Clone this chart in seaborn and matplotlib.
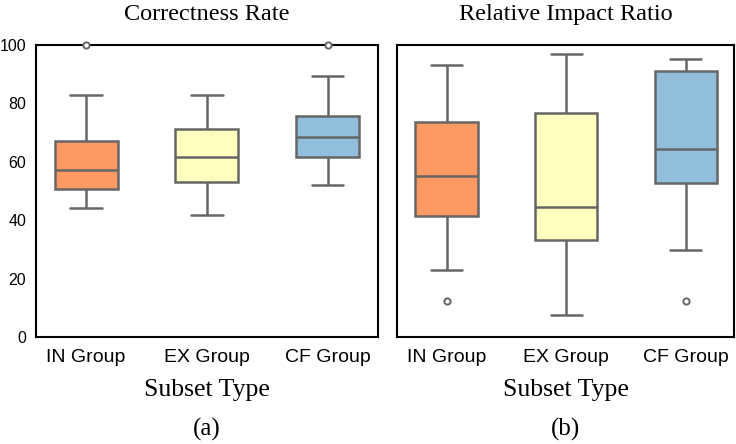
import matplotlib
matplotlib.use("Agg")
import matplotlib.pyplot as plt
import numpy as np
import pandas as pd
import seaborn as sns

# groups on the x axis
groups = ["IN Group", "EX Group", "CF Group"]
colors = ["#fd9a63", "#ffffbf", "#91bfdb"]

# (a) correctness rate
correct_in = [44.3, 47.5, 50.7, 54.0, 57.2, 62.0, 67.2, 82.7, 100.0]
correct_ex = [42.0, 48.0, 53.2, 58.0, 61.6, 66.0, 71.1, 77.0, 82.8]
correct_cf = [52.0, 57.0, 61.5, 65.0, 68.5, 72.0, 75.7, 89.4, 100.0]

# (b) relative impact ratio
impact_in = [12.6, 23.2, 41.4, 48.0, 55.1, 64.0, 73.8, 84.0, 93.0]
impact_ex = [7.7, 20.0, 33.3, 40.0, 44.5, 60.0, 76.7, 88.0, 96.8]
impact_cf = [12.6, 29.9, 52.9, 58.0, 64.5, 80.0, 90.9, 93.0, 95.2]

yticks = [0, 20, 40, 60, 80, 100]


def make_frame(a, b, c):
    return pd.DataFrame({
        "group": [groups[0]] * len(a) + [groups[1]] * len(b) + [groups[2]] * len(c),
        "value": a + b + c,
    })


def draw_panel(ax, df, title, letter, whis, xlim, show_labels):
    sns.boxplot(data=df, x="group", y="value", hue="group", order=groups,
                palette=colors, saturation=1, width=0.52, whis=whis,
                linecolor="#666666", linewidth=1.8, legend=False, ax=ax,
                flierprops=dict(marker="o", markersize=4.5, markerfacecolor="white",
                                markeredgecolor="#666666", markeredgewidth=1.4,
                                clip_on=False, zorder=5))
    ax.set_ylim(0, 100)
    ax.set_xlim(*xlim)
    ax.set_yticks(yticks)
    if not show_labels:
        ax.set_yticklabels([])
    ax.set_ylabel("")
    ax.set_xlabel("Subset Type", family="Liberation Serif", fontsize=18.5,
                  labelpad=10, color="black")
    ax.set_title(title, family="Liberation Serif", fontsize=17.5, pad=18, color="black")
    ax.text(0.5, -0.315, letter, transform=ax.transAxes, ha="center", va="center",
            family="Liberation Serif", fontsize=18, color="black")
    for s in ax.spines.values():
        s.set_visible(True)
        s.set_color("black")
        s.set_linewidth(1.5)
    ax.tick_params(axis="both", direction="out", length=3, width=1.5,
                   colors="black")
    ax.tick_params(axis="x", labelsize=14, pad=5)
    ax.tick_params(axis="y", labelsize=11.5, pad=4)
    for lab in ax.get_xticklabels() + ax.get_yticklabels():
        lab.set_family("Liberation Sans")


def main():
    sns.set_style("white")
    fig = plt.figure(figsize=(7.36, 4.44), dpi=100)
    ax1 = fig.add_axes([0.049, 0.24, 0.465, 0.659])
    ax2 = fig.add_axes([0.540, 0.24, 0.457, 0.659])

    draw_panel(ax1, make_frame(correct_in, correct_ex, correct_cf),
               "Correctness Rate", "(a)", 1.5, (-0.415, 2.42), True)
    draw_panel(ax2, make_frame(impact_in, impact_ex, impact_cf),
               "Relative Impact Ratio", "(b)", 0.75, (-0.41, 2.40), False)

    fig.savefig("out.png", dpi=100)


if __name__ == "__main__":
    main()
